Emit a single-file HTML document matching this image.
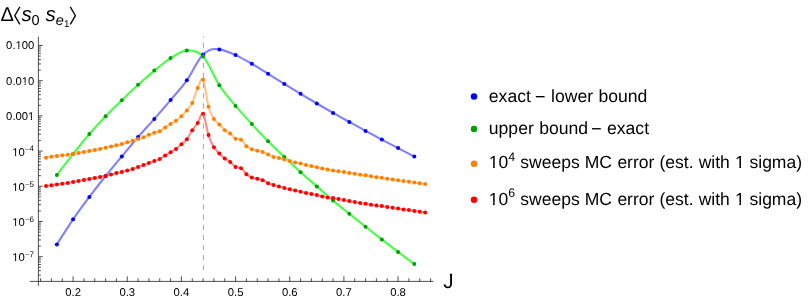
<!DOCTYPE html>
<html><head><meta charset="utf-8"><title>plot</title>
<style>html,body{margin:0;padding:0;background:#fff;overflow:hidden}svg text{text-rendering:geometricPrecision}svg{will-change:transform}body{width:810px;height:301px;position:relative;font-family:"Liberation Sans",sans-serif}</style>
</head><body>
<svg width="810" height="301" viewBox="0 0 810 301" style="position:absolute;left:0;top:0">
<rect width="810" height="301" fill="#fff"/>
<g fill="none" stroke-linejoin="round" stroke-linecap="butt">
<path d="M56.85 244.40 C62.27 236.03 67.68 227.22 73.10 219.30 C78.52 211.38 83.93 204.12 89.35 196.90 C94.76 189.68 100.18 182.75 105.60 176.00 C111.01 169.25 116.43 162.90 121.84 156.40 C127.26 149.90 132.68 143.25 138.09 137.00 C143.51 130.75 148.92 125.05 154.34 118.90 C159.76 112.75 165.17 106.53 170.59 100.10 C176.00 93.67 181.42 87.88 186.84 80.30 C192.25 72.72 197.67 59.67 203.08 54.60 C204.16 53.60 205.23 52.73 206.30 52.00 C207.53 51.16 208.77 50.49 210.00 50.00 C211.60 49.37 213.20 49.09 214.80 49.00 C216.31 48.92 217.82 49.18 219.33 49.40 C224.75 50.19 230.16 52.70 235.58 55.10 C241.00 57.50 246.41 60.68 251.83 63.80 C257.24 66.92 262.66 70.45 268.08 73.80 C273.49 77.15 278.91 80.57 284.32 83.90 C289.74 87.23 295.16 90.53 300.57 93.80 C305.99 97.07 311.40 100.32 316.82 103.50 C322.24 106.68 327.65 109.83 333.07 112.90 C338.48 115.97 343.90 118.90 349.32 121.90 C354.73 124.90 360.15 127.95 365.56 130.90 C370.98 133.85 376.40 136.73 381.81 139.60 C387.23 142.47 392.64 145.27 398.06 148.10 C403.48 150.93 408.89 153.77 414.31 156.60" stroke="#8080ff" stroke-width="2.10"/>
<path d="M56.85 174.90 C62.27 167.90 67.68 160.72 73.10 153.90 C78.52 147.08 83.93 140.27 89.35 134.00 C94.76 127.73 100.18 121.93 105.60 116.30 C111.01 110.67 116.43 105.45 121.84 100.20 C127.26 94.95 132.68 89.73 138.09 84.80 C143.51 79.87 148.92 75.05 154.34 70.60 C159.76 66.15 165.17 61.47 170.59 58.10 C176.00 54.73 181.42 50.68 186.84 50.40 C192.25 50.12 197.67 50.58 203.08 56.40 C208.50 62.22 213.92 77.05 219.33 85.30 C224.75 93.55 230.16 99.43 235.58 105.90 C241.00 112.37 246.41 118.20 251.83 124.10 C257.24 130.00 262.66 135.80 268.08 141.30 C273.49 146.80 278.91 151.95 284.32 157.10 C289.74 162.25 295.16 167.32 300.57 172.20 C305.99 177.08 311.40 181.67 316.82 186.40 C322.24 191.13 327.65 196.03 333.07 200.60 C338.48 205.17 343.90 209.43 349.32 213.80 C354.73 218.17 360.15 222.53 365.56 226.80 C370.98 231.07 376.40 235.22 381.81 239.40 C387.23 243.58 392.64 247.78 398.06 251.90 C403.48 256.02 408.89 260.03 414.31 264.10" stroke="#47ff47" stroke-width="2.10"/>
<path d="M46.02 157.70 C47.83 157.37 49.63 157.00 51.44 156.70 C53.24 156.40 55.05 156.13 56.85 155.90 C58.66 155.67 60.46 155.50 62.27 155.30 C64.07 155.10 65.88 154.93 67.68 154.70 C69.49 154.47 71.29 154.20 73.10 153.90 C74.91 153.60 76.71 153.23 78.52 152.90 C80.32 152.57 82.13 152.23 83.93 151.90 C85.74 151.57 87.54 151.23 89.35 150.90 C91.15 150.57 92.96 150.23 94.76 149.90 C96.57 149.57 98.37 149.27 100.18 148.90 C101.99 148.53 103.79 148.10 105.60 147.70 C107.40 147.30 109.21 146.90 111.01 146.50 C112.82 146.10 114.62 145.73 116.43 145.30 C118.23 144.87 120.04 144.40 121.84 143.90 C123.65 143.40 125.45 142.83 127.26 142.30 C129.07 141.77 130.87 141.23 132.68 140.70 C134.48 140.17 136.29 139.68 138.09 139.10 C139.90 138.52 141.70 137.92 143.51 137.20 C145.31 136.48 147.12 135.53 148.92 134.80 C150.73 134.07 152.53 133.40 154.34 132.80 C156.15 132.20 157.95 132.10 159.76 131.20 C161.56 130.30 163.37 128.62 165.17 127.40 C166.98 126.18 168.78 125.02 170.59 123.90 C172.39 122.78 174.20 121.98 176.00 120.70 C177.81 119.42 179.61 117.92 181.42 116.20 C183.23 114.48 185.03 112.62 186.84 110.40 C188.64 108.18 190.45 106.63 192.25 102.90 C194.06 99.17 195.86 91.85 197.67 88.00 C199.47 84.15 201.28 76.67 203.08 79.80 C204.89 82.93 206.69 100.27 208.50 106.80 C210.31 113.33 212.11 116.07 213.92 119.00 C215.72 121.93 217.53 122.53 219.33 124.40 C221.14 126.27 222.94 128.68 224.75 130.20 C226.55 131.72 228.36 132.08 230.16 133.50 C231.97 134.92 233.77 137.67 235.58 138.70 C237.39 139.73 239.19 138.45 241.00 139.70 C242.80 140.95 244.61 144.62 246.41 146.20 C248.22 147.78 250.02 148.45 251.83 149.20 C253.63 149.95 255.44 150.25 257.24 150.70 C259.05 151.15 260.85 151.27 262.66 151.90 C264.47 152.53 266.27 153.65 268.08 154.50 C269.88 155.35 271.69 156.43 273.49 157.00 C275.30 157.57 277.10 157.50 278.91 157.90 C280.71 158.30 282.52 158.87 284.32 159.40 C286.13 159.93 287.93 160.57 289.74 161.10 C291.55 161.63 293.35 162.18 295.16 162.60 C296.96 163.02 298.77 163.18 300.57 163.60 C302.38 164.02 304.18 164.68 305.99 165.10 C307.79 165.52 309.60 165.73 311.40 166.10 C313.21 166.47 315.01 166.88 316.82 167.30 C318.63 167.72 320.43 168.22 322.24 168.60 C324.04 168.98 325.85 169.27 327.65 169.60 C329.46 169.93 331.26 170.32 333.07 170.60 C334.87 170.88 336.68 171.07 338.48 171.30 C340.29 171.53 342.09 171.72 343.90 172.00 C345.71 172.28 347.51 172.70 349.32 173.00 C351.12 173.30 352.93 173.50 354.73 173.80 C356.54 174.10 358.34 174.55 360.15 174.80 C361.95 175.05 363.76 175.07 365.56 175.30 C367.37 175.53 369.17 175.88 370.98 176.20 C372.79 176.52 374.59 176.93 376.40 177.20 C378.20 177.47 380.01 177.55 381.81 177.80 C383.62 178.05 385.42 178.42 387.23 178.70 C389.03 178.98 390.84 179.25 392.64 179.50 C394.45 179.75 396.25 179.95 398.06 180.20 C399.87 180.45 401.67 180.73 403.48 181.00 C405.28 181.27 407.09 181.53 408.89 181.80 C410.70 182.07 412.50 182.37 414.31 182.60 C416.11 182.83 417.92 182.95 419.72 183.20 C421.53 183.45 423.33 183.80 425.14 184.10" stroke="#ffc488" stroke-width="2.10"/>
<path d="M46.02 186.10 C47.83 185.83 49.63 185.57 51.44 185.30 C53.24 185.03 55.05 184.77 56.85 184.50 C58.66 184.23 60.46 183.97 62.27 183.70 C64.07 183.43 65.88 183.20 67.68 182.90 C69.49 182.60 71.29 182.23 73.10 181.90 C74.91 181.57 76.71 181.23 78.52 180.90 C80.32 180.57 82.13 180.23 83.93 179.90 C85.74 179.57 87.54 179.23 89.35 178.90 C91.15 178.57 92.96 178.23 94.76 177.90 C96.57 177.57 98.37 177.23 100.18 176.90 C101.99 176.57 103.79 176.28 105.60 175.90 C107.40 175.52 109.21 175.07 111.01 174.60 C112.82 174.13 114.62 173.53 116.43 173.10 C118.23 172.67 120.04 172.42 121.84 172.00 C123.65 171.58 125.45 171.10 127.26 170.60 C129.07 170.10 130.87 169.58 132.68 169.00 C134.48 168.42 136.29 167.77 138.09 167.10 C139.90 166.43 141.70 165.68 143.51 165.00 C145.31 164.32 147.12 163.67 148.92 163.00 C150.73 162.33 152.53 161.67 154.34 161.00 C156.15 160.33 157.95 159.93 159.76 159.00 C161.56 158.07 163.37 156.52 165.17 155.40 C166.98 154.28 168.78 153.37 170.59 152.30 C172.39 151.23 174.20 150.33 176.00 149.00 C177.81 147.67 179.61 145.92 181.42 144.30 C183.23 142.68 185.03 141.63 186.84 139.30 C188.64 136.97 190.45 133.00 192.25 130.30 C194.06 127.60 195.86 125.85 197.67 123.10 C199.47 120.35 201.28 111.80 203.08 113.80 C204.89 115.80 206.69 129.52 208.50 135.10 C210.31 140.68 212.11 144.25 213.92 147.30 C215.72 150.35 217.53 151.53 219.33 153.40 C221.14 155.27 222.94 157.08 224.75 158.50 C226.55 159.92 228.36 160.48 230.16 161.90 C231.97 163.32 233.77 165.95 235.58 167.00 C237.39 168.05 239.19 167.00 241.00 168.20 C242.80 169.40 244.61 172.63 246.41 174.20 C248.22 175.77 250.02 176.85 251.83 177.60 C253.63 178.35 255.44 178.25 257.24 178.70 C259.05 179.15 260.85 179.55 262.66 180.30 C264.47 181.05 266.27 182.43 268.08 183.20 C269.88 183.97 271.69 184.37 273.49 184.90 C275.30 185.43 277.10 185.90 278.91 186.40 C280.71 186.90 282.52 187.43 284.32 187.90 C286.13 188.37 287.93 188.78 289.74 189.20 C291.55 189.62 293.35 189.98 295.16 190.40 C296.96 190.82 298.77 191.28 300.57 191.70 C302.38 192.12 304.18 192.50 305.99 192.90 C307.79 193.30 309.60 193.73 311.40 194.10 C313.21 194.47 315.01 194.72 316.82 195.10 C318.63 195.48 320.43 196.02 322.24 196.40 C324.04 196.78 325.85 197.12 327.65 197.40 C329.46 197.68 331.26 197.82 333.07 198.10 C334.87 198.38 336.68 198.77 338.48 199.10 C340.29 199.43 342.09 199.77 343.90 200.10 C345.71 200.43 347.51 200.77 349.32 201.10 C351.12 201.43 352.93 201.77 354.73 202.10 C356.54 202.43 358.34 202.82 360.15 203.10 C361.95 203.38 363.76 203.52 365.56 203.80 C367.37 204.08 369.17 204.52 370.98 204.80 C372.79 205.08 374.59 205.30 376.40 205.50 C378.20 205.70 380.01 205.75 381.81 206.00 C383.62 206.25 385.42 206.70 387.23 207.00 C389.03 207.30 390.84 207.53 392.64 207.80 C394.45 208.07 396.25 208.33 398.06 208.60 C399.87 208.87 401.67 209.15 403.48 209.40 C405.28 209.65 407.09 209.85 408.89 210.10 C410.70 210.35 412.50 210.63 414.31 210.90 C416.11 211.17 417.92 211.43 419.72 211.70 C421.53 211.97 423.33 212.23 425.14 212.50" stroke="#ff8c8c" stroke-width="2.10"/>
</g>
<g fill="#0000ff"><circle cx="56.85" cy="244.40" r="2.00"/><circle cx="73.10" cy="219.30" r="2.00"/><circle cx="89.35" cy="196.90" r="2.00"/><circle cx="105.60" cy="176.00" r="2.00"/><circle cx="121.84" cy="156.40" r="2.00"/><circle cx="138.09" cy="137.00" r="2.00"/><circle cx="154.34" cy="118.90" r="2.00"/><circle cx="170.59" cy="100.10" r="2.00"/><circle cx="186.84" cy="80.30" r="2.00"/><circle cx="203.08" cy="54.60" r="2.00"/><circle cx="219.33" cy="49.40" r="2.00"/><circle cx="235.58" cy="55.10" r="2.00"/><circle cx="251.83" cy="63.80" r="2.00"/><circle cx="268.08" cy="73.80" r="2.00"/><circle cx="284.32" cy="83.90" r="2.00"/><circle cx="300.57" cy="93.80" r="2.00"/><circle cx="316.82" cy="103.50" r="2.00"/><circle cx="333.07" cy="112.90" r="2.00"/><circle cx="349.32" cy="121.90" r="2.00"/><circle cx="365.56" cy="130.90" r="2.00"/><circle cx="381.81" cy="139.60" r="2.00"/><circle cx="398.06" cy="148.10" r="2.00"/><circle cx="414.31" cy="156.60" r="2.00"/></g>
<g fill="#00a000"><circle cx="56.85" cy="174.90" r="2.00"/><circle cx="73.10" cy="153.90" r="2.00"/><circle cx="89.35" cy="134.00" r="2.00"/><circle cx="105.60" cy="116.30" r="2.00"/><circle cx="121.84" cy="100.20" r="2.00"/><circle cx="138.09" cy="84.80" r="2.00"/><circle cx="154.34" cy="70.60" r="2.00"/><circle cx="170.59" cy="58.10" r="2.00"/><circle cx="186.84" cy="50.40" r="2.00"/><circle cx="203.08" cy="56.40" r="2.00"/><circle cx="219.33" cy="85.30" r="2.00"/><circle cx="235.58" cy="105.90" r="2.00"/><circle cx="251.83" cy="124.10" r="2.00"/><circle cx="268.08" cy="141.30" r="2.00"/><circle cx="284.32" cy="157.10" r="2.00"/><circle cx="300.57" cy="172.20" r="2.00"/><circle cx="316.82" cy="186.40" r="2.00"/><circle cx="333.07" cy="200.60" r="2.00"/><circle cx="349.32" cy="213.80" r="2.00"/><circle cx="365.56" cy="226.80" r="2.00"/><circle cx="381.81" cy="239.40" r="2.00"/><circle cx="398.06" cy="251.90" r="2.00"/><circle cx="414.31" cy="264.10" r="2.00"/></g>
<g fill="#ff8000"><circle cx="46.02" cy="157.70" r="2.00"/><circle cx="51.44" cy="156.70" r="2.00"/><circle cx="56.85" cy="155.90" r="2.00"/><circle cx="62.27" cy="155.30" r="2.00"/><circle cx="67.68" cy="154.70" r="2.00"/><circle cx="73.10" cy="153.90" r="2.00"/><circle cx="78.52" cy="152.90" r="2.00"/><circle cx="83.93" cy="151.90" r="2.00"/><circle cx="89.35" cy="150.90" r="2.00"/><circle cx="94.76" cy="149.90" r="2.00"/><circle cx="100.18" cy="148.90" r="2.00"/><circle cx="105.60" cy="147.70" r="2.00"/><circle cx="111.01" cy="146.50" r="2.00"/><circle cx="116.43" cy="145.30" r="2.00"/><circle cx="121.84" cy="143.90" r="2.00"/><circle cx="127.26" cy="142.30" r="2.00"/><circle cx="132.68" cy="140.70" r="2.00"/><circle cx="138.09" cy="139.10" r="2.00"/><circle cx="143.51" cy="137.20" r="2.00"/><circle cx="148.92" cy="134.80" r="2.00"/><circle cx="154.34" cy="132.80" r="2.00"/><circle cx="159.76" cy="131.20" r="2.00"/><circle cx="165.17" cy="127.40" r="2.00"/><circle cx="170.59" cy="123.90" r="2.00"/><circle cx="176.00" cy="120.70" r="2.00"/><circle cx="181.42" cy="116.20" r="2.00"/><circle cx="186.84" cy="110.40" r="2.00"/><circle cx="192.25" cy="102.90" r="2.00"/><circle cx="197.67" cy="88.00" r="2.00"/><circle cx="203.08" cy="79.80" r="2.00"/><circle cx="208.50" cy="106.80" r="2.00"/><circle cx="213.92" cy="119.00" r="2.00"/><circle cx="219.33" cy="124.40" r="2.00"/><circle cx="224.75" cy="130.20" r="2.00"/><circle cx="230.16" cy="133.50" r="2.00"/><circle cx="235.58" cy="138.70" r="2.00"/><circle cx="241.00" cy="139.70" r="2.00"/><circle cx="246.41" cy="146.20" r="2.00"/><circle cx="251.83" cy="149.20" r="2.00"/><circle cx="257.24" cy="150.70" r="2.00"/><circle cx="262.66" cy="151.90" r="2.00"/><circle cx="268.08" cy="154.50" r="2.00"/><circle cx="273.49" cy="157.00" r="2.00"/><circle cx="278.91" cy="157.90" r="2.00"/><circle cx="284.32" cy="159.40" r="2.00"/><circle cx="289.74" cy="161.10" r="2.00"/><circle cx="295.16" cy="162.60" r="2.00"/><circle cx="300.57" cy="163.60" r="2.00"/><circle cx="305.99" cy="165.10" r="2.00"/><circle cx="311.40" cy="166.10" r="2.00"/><circle cx="316.82" cy="167.30" r="2.00"/><circle cx="322.24" cy="168.60" r="2.00"/><circle cx="327.65" cy="169.60" r="2.00"/><circle cx="333.07" cy="170.60" r="2.00"/><circle cx="338.48" cy="171.30" r="2.00"/><circle cx="343.90" cy="172.00" r="2.00"/><circle cx="349.32" cy="173.00" r="2.00"/><circle cx="354.73" cy="173.80" r="2.00"/><circle cx="360.15" cy="174.80" r="2.00"/><circle cx="365.56" cy="175.30" r="2.00"/><circle cx="370.98" cy="176.20" r="2.00"/><circle cx="376.40" cy="177.20" r="2.00"/><circle cx="381.81" cy="177.80" r="2.00"/><circle cx="387.23" cy="178.70" r="2.00"/><circle cx="392.64" cy="179.50" r="2.00"/><circle cx="398.06" cy="180.20" r="2.00"/><circle cx="403.48" cy="181.00" r="2.00"/><circle cx="408.89" cy="181.80" r="2.00"/><circle cx="414.31" cy="182.60" r="2.00"/><circle cx="419.72" cy="183.20" r="2.00"/><circle cx="425.14" cy="184.10" r="2.00"/></g>
<g fill="#ff0000"><circle cx="46.02" cy="186.10" r="2.00"/><circle cx="51.44" cy="185.30" r="2.00"/><circle cx="56.85" cy="184.50" r="2.00"/><circle cx="62.27" cy="183.70" r="2.00"/><circle cx="67.68" cy="182.90" r="2.00"/><circle cx="73.10" cy="181.90" r="2.00"/><circle cx="78.52" cy="180.90" r="2.00"/><circle cx="83.93" cy="179.90" r="2.00"/><circle cx="89.35" cy="178.90" r="2.00"/><circle cx="94.76" cy="177.90" r="2.00"/><circle cx="100.18" cy="176.90" r="2.00"/><circle cx="105.60" cy="175.90" r="2.00"/><circle cx="111.01" cy="174.60" r="2.00"/><circle cx="116.43" cy="173.10" r="2.00"/><circle cx="121.84" cy="172.00" r="2.00"/><circle cx="127.26" cy="170.60" r="2.00"/><circle cx="132.68" cy="169.00" r="2.00"/><circle cx="138.09" cy="167.10" r="2.00"/><circle cx="143.51" cy="165.00" r="2.00"/><circle cx="148.92" cy="163.00" r="2.00"/><circle cx="154.34" cy="161.00" r="2.00"/><circle cx="159.76" cy="159.00" r="2.00"/><circle cx="165.17" cy="155.40" r="2.00"/><circle cx="170.59" cy="152.30" r="2.00"/><circle cx="176.00" cy="149.00" r="2.00"/><circle cx="181.42" cy="144.30" r="2.00"/><circle cx="186.84" cy="139.30" r="2.00"/><circle cx="192.25" cy="130.30" r="2.00"/><circle cx="197.67" cy="123.10" r="2.00"/><circle cx="203.08" cy="113.80" r="2.00"/><circle cx="208.50" cy="135.10" r="2.00"/><circle cx="213.92" cy="147.30" r="2.00"/><circle cx="219.33" cy="153.40" r="2.00"/><circle cx="224.75" cy="158.50" r="2.00"/><circle cx="230.16" cy="161.90" r="2.00"/><circle cx="235.58" cy="167.00" r="2.00"/><circle cx="241.00" cy="168.20" r="2.00"/><circle cx="246.41" cy="174.20" r="2.00"/><circle cx="251.83" cy="177.60" r="2.00"/><circle cx="257.24" cy="178.70" r="2.00"/><circle cx="262.66" cy="180.30" r="2.00"/><circle cx="268.08" cy="183.20" r="2.00"/><circle cx="273.49" cy="184.90" r="2.00"/><circle cx="278.91" cy="186.40" r="2.00"/><circle cx="284.32" cy="187.90" r="2.00"/><circle cx="289.74" cy="189.20" r="2.00"/><circle cx="295.16" cy="190.40" r="2.00"/><circle cx="300.57" cy="191.70" r="2.00"/><circle cx="305.99" cy="192.90" r="2.00"/><circle cx="311.40" cy="194.10" r="2.00"/><circle cx="316.82" cy="195.10" r="2.00"/><circle cx="322.24" cy="196.40" r="2.00"/><circle cx="327.65" cy="197.40" r="2.00"/><circle cx="333.07" cy="198.10" r="2.00"/><circle cx="338.48" cy="199.10" r="2.00"/><circle cx="343.90" cy="200.10" r="2.00"/><circle cx="349.32" cy="201.10" r="2.00"/><circle cx="354.73" cy="202.10" r="2.00"/><circle cx="360.15" cy="203.10" r="2.00"/><circle cx="365.56" cy="203.80" r="2.00"/><circle cx="370.98" cy="204.80" r="2.00"/><circle cx="376.40" cy="205.50" r="2.00"/><circle cx="381.81" cy="206.00" r="2.00"/><circle cx="387.23" cy="207.00" r="2.00"/><circle cx="392.64" cy="207.80" r="2.00"/><circle cx="398.06" cy="208.60" r="2.00"/><circle cx="403.48" cy="209.40" r="2.00"/><circle cx="408.89" cy="210.10" r="2.00"/><circle cx="414.31" cy="210.90" r="2.00"/><circle cx="419.72" cy="211.70" r="2.00"/><circle cx="425.14" cy="212.50" r="2.00"/></g>
<line x1="203.45" y1="36.4" x2="203.45" y2="270.1" stroke="#808080" stroke-width="0.7" stroke-dasharray="5.1 5.02" stroke-dashoffset="3.9"/>
<g stroke="#222" stroke-width="0.8" fill="none">
<line x1="29.8" y1="281.40" x2="433.4" y2="281.40"/>
<line x1="38.40" y1="36.6" x2="38.40" y2="285.8"/>
<line x1="40.60" y1="281.40" x2="40.60" y2="278.30"/>
<line x1="51.44" y1="281.40" x2="51.44" y2="278.30"/>
<line x1="62.27" y1="281.40" x2="62.27" y2="278.30"/>
<line x1="73.10" y1="281.40" x2="73.10" y2="276.30"/>
<line x1="83.93" y1="281.40" x2="83.93" y2="278.30"/>
<line x1="94.76" y1="281.40" x2="94.76" y2="278.30"/>
<line x1="105.60" y1="281.40" x2="105.60" y2="278.30"/>
<line x1="116.43" y1="281.40" x2="116.43" y2="278.30"/>
<line x1="127.26" y1="281.40" x2="127.26" y2="276.30"/>
<line x1="138.09" y1="281.40" x2="138.09" y2="278.30"/>
<line x1="148.92" y1="281.40" x2="148.92" y2="278.30"/>
<line x1="159.76" y1="281.40" x2="159.76" y2="278.30"/>
<line x1="170.59" y1="281.40" x2="170.59" y2="278.30"/>
<line x1="181.42" y1="281.40" x2="181.42" y2="276.30"/>
<line x1="192.25" y1="281.40" x2="192.25" y2="278.30"/>
<line x1="203.08" y1="281.40" x2="203.08" y2="278.30"/>
<line x1="213.92" y1="281.40" x2="213.92" y2="278.30"/>
<line x1="224.75" y1="281.40" x2="224.75" y2="278.30"/>
<line x1="235.58" y1="281.40" x2="235.58" y2="276.30"/>
<line x1="246.41" y1="281.40" x2="246.41" y2="278.30"/>
<line x1="257.24" y1="281.40" x2="257.24" y2="278.30"/>
<line x1="268.08" y1="281.40" x2="268.08" y2="278.30"/>
<line x1="278.91" y1="281.40" x2="278.91" y2="278.30"/>
<line x1="289.74" y1="281.40" x2="289.74" y2="276.30"/>
<line x1="300.57" y1="281.40" x2="300.57" y2="278.30"/>
<line x1="311.40" y1="281.40" x2="311.40" y2="278.30"/>
<line x1="322.24" y1="281.40" x2="322.24" y2="278.30"/>
<line x1="333.07" y1="281.40" x2="333.07" y2="278.30"/>
<line x1="343.90" y1="281.40" x2="343.90" y2="276.30"/>
<line x1="354.73" y1="281.40" x2="354.73" y2="278.30"/>
<line x1="365.56" y1="281.40" x2="365.56" y2="278.30"/>
<line x1="376.40" y1="281.40" x2="376.40" y2="278.30"/>
<line x1="387.23" y1="281.40" x2="387.23" y2="278.30"/>
<line x1="398.06" y1="281.40" x2="398.06" y2="276.30"/>
<line x1="408.89" y1="281.40" x2="408.89" y2="278.30"/>
<line x1="419.72" y1="281.40" x2="419.72" y2="278.30"/>
<line x1="430.56" y1="281.40" x2="430.56" y2="278.30"/>
<line x1="38.40" y1="275.11" x2="40.90" y2="275.11"/>
<line x1="38.40" y1="270.71" x2="40.90" y2="270.71"/>
<line x1="38.40" y1="267.30" x2="40.90" y2="267.30"/>
<line x1="38.40" y1="264.51" x2="40.90" y2="264.51"/>
<line x1="38.40" y1="262.15" x2="40.90" y2="262.15"/>
<line x1="38.40" y1="260.11" x2="40.90" y2="260.11"/>
<line x1="38.40" y1="258.31" x2="40.90" y2="258.31"/>
<line x1="38.40" y1="256.70" x2="42.70" y2="256.70"/>
<line x1="38.40" y1="246.10" x2="40.90" y2="246.10"/>
<line x1="38.40" y1="239.91" x2="40.90" y2="239.91"/>
<line x1="38.40" y1="235.51" x2="40.90" y2="235.51"/>
<line x1="38.40" y1="232.10" x2="40.90" y2="232.10"/>
<line x1="38.40" y1="229.31" x2="40.90" y2="229.31"/>
<line x1="38.40" y1="226.95" x2="40.90" y2="226.95"/>
<line x1="38.40" y1="224.91" x2="40.90" y2="224.91"/>
<line x1="38.40" y1="223.11" x2="40.90" y2="223.11"/>
<line x1="38.40" y1="221.50" x2="42.70" y2="221.50"/>
<line x1="38.40" y1="210.90" x2="40.90" y2="210.90"/>
<line x1="38.40" y1="204.71" x2="40.90" y2="204.71"/>
<line x1="38.40" y1="200.31" x2="40.90" y2="200.31"/>
<line x1="38.40" y1="196.90" x2="40.90" y2="196.90"/>
<line x1="38.40" y1="194.11" x2="40.90" y2="194.11"/>
<line x1="38.40" y1="191.75" x2="40.90" y2="191.75"/>
<line x1="38.40" y1="189.71" x2="40.90" y2="189.71"/>
<line x1="38.40" y1="187.91" x2="40.90" y2="187.91"/>
<line x1="38.40" y1="186.30" x2="42.70" y2="186.30"/>
<line x1="38.40" y1="175.70" x2="40.90" y2="175.70"/>
<line x1="38.40" y1="169.51" x2="40.90" y2="169.51"/>
<line x1="38.40" y1="165.11" x2="40.90" y2="165.11"/>
<line x1="38.40" y1="161.70" x2="40.90" y2="161.70"/>
<line x1="38.40" y1="158.91" x2="40.90" y2="158.91"/>
<line x1="38.40" y1="156.55" x2="40.90" y2="156.55"/>
<line x1="38.40" y1="154.51" x2="40.90" y2="154.51"/>
<line x1="38.40" y1="152.71" x2="40.90" y2="152.71"/>
<line x1="38.40" y1="151.10" x2="42.70" y2="151.10"/>
<line x1="38.40" y1="140.50" x2="40.90" y2="140.50"/>
<line x1="38.40" y1="134.31" x2="40.90" y2="134.31"/>
<line x1="38.40" y1="129.91" x2="40.90" y2="129.91"/>
<line x1="38.40" y1="126.50" x2="40.90" y2="126.50"/>
<line x1="38.40" y1="123.71" x2="40.90" y2="123.71"/>
<line x1="38.40" y1="121.35" x2="40.90" y2="121.35"/>
<line x1="38.40" y1="119.31" x2="40.90" y2="119.31"/>
<line x1="38.40" y1="117.51" x2="40.90" y2="117.51"/>
<line x1="38.40" y1="115.90" x2="42.70" y2="115.90"/>
<line x1="38.40" y1="105.30" x2="40.90" y2="105.30"/>
<line x1="38.40" y1="99.11" x2="40.90" y2="99.11"/>
<line x1="38.40" y1="94.71" x2="40.90" y2="94.71"/>
<line x1="38.40" y1="91.30" x2="40.90" y2="91.30"/>
<line x1="38.40" y1="88.51" x2="40.90" y2="88.51"/>
<line x1="38.40" y1="86.15" x2="40.90" y2="86.15"/>
<line x1="38.40" y1="84.11" x2="40.90" y2="84.11"/>
<line x1="38.40" y1="82.31" x2="40.90" y2="82.31"/>
<line x1="38.40" y1="80.70" x2="42.70" y2="80.70"/>
<line x1="38.40" y1="70.10" x2="40.90" y2="70.10"/>
<line x1="38.40" y1="63.91" x2="40.90" y2="63.91"/>
<line x1="38.40" y1="59.51" x2="40.90" y2="59.51"/>
<line x1="38.40" y1="56.10" x2="40.90" y2="56.10"/>
<line x1="38.40" y1="53.31" x2="40.90" y2="53.31"/>
<line x1="38.40" y1="50.95" x2="40.90" y2="50.95"/>
<line x1="38.40" y1="48.91" x2="40.90" y2="48.91"/>
<line x1="38.40" y1="47.11" x2="40.90" y2="47.11"/>
<line x1="38.40" y1="45.50" x2="42.70" y2="45.50"/>
</g>
<g font-family="Liberation Sans, sans-serif" font-size="11.3" fill="#000">
<text x="73.10" y="296.2" text-anchor="middle">0.2</text>
<text x="127.26" y="296.2" text-anchor="middle">0.3</text>
<text x="181.42" y="296.2" text-anchor="middle">0.4</text>
<text x="235.58" y="296.2" text-anchor="middle">0.5</text>
<text x="289.74" y="296.2" text-anchor="middle">0.6</text>
<text x="343.90" y="296.2" text-anchor="middle">0.7</text>
<text x="398.06" y="296.2" text-anchor="middle">0.8</text>
<text x="6.12" y="49.40">0.100</text>
<rect x="15.59" y="47.26" width="2.70" height="3.14" fill="#fff"/><rect x="19.45" y="47.26" width="2.51" height="3.14" fill="#fff"/>
<text x="6.12" y="84.60">0.010</text>
<rect x="21.88" y="82.46" width="2.70" height="3.14" fill="#fff"/><rect x="25.74" y="82.46" width="2.51" height="3.14" fill="#fff"/>
<text x="6.12" y="119.80">0.001</text>
<rect x="28.16" y="117.66" width="2.70" height="3.14" fill="#fff"/><rect x="32.02" y="117.66" width="2.51" height="3.14" fill="#fff"/>
<text y="155.50"><tspan x="12.3">10</tspan><tspan x="24.9" font-size="8" dy="-3.7" fill="#555">−</tspan><tspan x="29.55" font-size="8" dy="-0.5">4</tspan></text>
<rect x="12.36" y="153.36" width="2.70" height="3.14" fill="#fff"/><rect x="16.22" y="153.36" width="2.51" height="3.14" fill="#fff"/>
<text y="190.70"><tspan x="12.3">10</tspan><tspan x="24.9" font-size="8" dy="-3.7" fill="#555">−</tspan><tspan x="29.55" font-size="8" dy="-0.5">5</tspan></text>
<rect x="12.36" y="188.56" width="2.70" height="3.14" fill="#fff"/><rect x="16.22" y="188.56" width="2.51" height="3.14" fill="#fff"/>
<text y="225.90"><tspan x="12.3">10</tspan><tspan x="24.9" font-size="8" dy="-3.7" fill="#555">−</tspan><tspan x="29.55" font-size="8" dy="-0.5">6</tspan></text>
<rect x="12.36" y="223.76" width="2.70" height="3.14" fill="#fff"/><rect x="16.22" y="223.76" width="2.51" height="3.14" fill="#fff"/>
<text y="261.10"><tspan x="12.3">10</tspan><tspan x="24.9" font-size="8" dy="-3.7" fill="#555">−</tspan><tspan x="29.55" font-size="8" dy="-0.5">7</tspan></text>
<rect x="12.36" y="258.96" width="2.70" height="3.14" fill="#fff"/><rect x="16.22" y="258.96" width="2.51" height="3.14" fill="#fff"/>
</g>
<text x="443.3" y="288.3" font-family="Liberation Sans, sans-serif" font-size="20.6" fill="#000">J</text>
<rect x="445.5" y="272.4" width="4.45" height="3.7" fill="#fff"/>
<g font-family="Liberation Sans, sans-serif" fill="#000">
<text x="0.4" y="20.7" font-size="20">Δ</text>
<path d="M19.85 6.9 L14.75 15.65 L19.85 24.4" fill="none" stroke="#000" stroke-width="1.3"/>
<text x="21.6" y="20.7" font-size="20.5" font-style="italic">s</text>
<text x="31.4" y="25.4" font-size="14.5">0</text>
<text x="45.6" y="20.7" font-size="20.5" font-style="italic">s</text>
<text x="55.8" y="25.2" font-size="14.5" font-style="italic">e</text>
<text x="63.9" y="27.3" font-size="9.8">1</text>
<path d="M70.3 6.9 L75.4 15.65 L70.3 24.4" fill="none" stroke="#000" stroke-width="1.3"/>
</g>
<circle cx="474.00" cy="96.60" r="3.25" fill="#0000ff"/>
<circle cx="474.00" cy="129.10" r="3.25" fill="#00a000"/>
<circle cx="474.00" cy="163.80" r="3.25" fill="#ff8000"/>
<circle cx="474.00" cy="199.70" r="3.25" fill="#ff0000"/>
<g font-family="Liberation Sans, sans-serif" font-size="17.6" fill="#000" style="word-spacing:0.45px">
<text x="488.80" y="102.1">exact</text><text x="551.0" y="102.1">lower bound</text>
<rect x="535.8" y="96.0" width="8.8" height="1.35" fill="#000"/>
<text x="488.80" y="134.2">upper bound</text><text x="607.0" y="134.2">exact</text>
<rect x="592.0" y="128.1" width="8.8" height="1.35" fill="#000"/>
<text y="168.3" font-size="17.5"><tspan x="488.7">10</tspan><tspan x="508.3" font-size="12.4" dy="-7.7">4</tspan><tspan x="520.3" dy="7.7">sweeps</tspan><tspan x="584.8">MC</tspan><tspan x="617.4">error</tspan><tspan x="659.5">(est.</tspan><tspan x="698.7">with</tspan><tspan x="735.0">1</tspan><tspan x="749.5">sigma)</tspan></text>
<rect x="489.23" y="165.69" width="3.79" height="3.61" fill="#fff"/><rect x="494.73" y="165.69" width="3.55" height="3.61" fill="#fff"/><rect x="735.53" y="165.69" width="3.79" height="3.61" fill="#fff"/><rect x="741.03" y="165.69" width="3.55" height="3.61" fill="#fff"/>
<text y="204.6" font-size="17.5"><tspan x="488.7">10</tspan><tspan x="508.3" font-size="12.4" dy="-7.7">6</tspan><tspan x="520.3" dy="7.7">sweeps</tspan><tspan x="584.8">MC</tspan><tspan x="617.4">error</tspan><tspan x="659.5">(est.</tspan><tspan x="698.7">with</tspan><tspan x="735.0">1</tspan><tspan x="749.5">sigma)</tspan></text>
<rect x="489.23" y="201.99" width="3.79" height="3.61" fill="#fff"/><rect x="494.73" y="201.99" width="3.55" height="3.61" fill="#fff"/><rect x="735.53" y="201.99" width="3.79" height="3.61" fill="#fff"/><rect x="741.03" y="201.99" width="3.55" height="3.61" fill="#fff"/>
</g>
</svg>
</body></html>
